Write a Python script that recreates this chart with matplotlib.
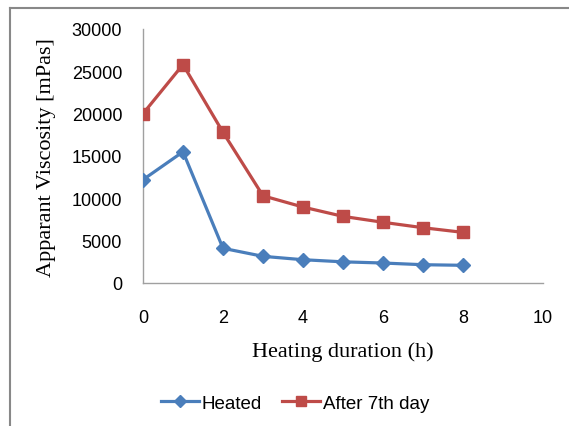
import matplotlib
matplotlib.use("Agg")
import matplotlib.pyplot as plt
from matplotlib.lines import Line2D

hours = [0, 1, 2, 3, 4, 5, 6, 7, 8]
heated = [12200, 15500, 4100, 3150, 2750, 2500, 2360, 2160, 2090]
after7 = [20000, 25800, 17800, 10300, 8970, 7870, 7170, 6530, 5980]
xticks = [0, 2, 4, 6, 8, 10]
yticks = [0, 5000, 10000, 15000, 20000, 25000, 30000]

blue = "#4A7EBB"
red = "#BE4B48"

fig = plt.figure(figsize=(5.69, 4.27), dpi=100)
ax = fig.add_axes([143/569, 1-284/427, 400/569, 254/427])

ax.plot(hours, heated, color=blue, lw=2.3, marker="D", ms=7.5, label="Heated", zorder=3)
ax.plot(hours, after7, color=red, lw=2.3, marker="s", ms=8.5, label="After 7th day", zorder=3)

ax.set_xlim(0, 10)
ax.set_ylim(0, 30000)
ax.set_xticks(xticks)
ax.set_yticks(yticks)
ax.set_xticklabels([str(t) for t in xticks], family="Liberation Sans", fontsize=13)
ax.set_yticklabels([str(t) for t in yticks], family="Liberation Sans", fontsize=13)
ax.tick_params(axis="x", length=0, pad=19)
ax.tick_params(axis="y", length=0, pad=15)
for s in ["top", "right"]:
    ax.spines[s].set_visible(False)
for s in ["left", "bottom"]:
    ax.spines[s].set_color("#A0A0A0")
    ax.spines[s].set_linewidth(1.0)

fig.text(47/569, 1-158/427, "Apparant Viscosity [mPas]", rotation=90, ha="center", va="center",
         family="Liberation Serif", fontsize=16)
fig.text(343/569, 1-352/427, "Heating duration (h)", ha="center", va="center",
         family="Liberation Serif", fontsize=16)

leg = fig.legend(loc="center", bbox_to_anchor=(295/569, 1-404/427), ncol=2, frameon=False,
                 prop={"family": "Liberation Sans", "size": 13.5}, handlelength=2.0,
                 handletextpad=0.15, columnspacing=1.1, markerscale=0.85)

# figure border (top and left visible)
fig.add_artist(Line2D([9.5/569, 1], [1-8.5/427]*2, color="#888888", lw=1.5, transform=fig.transFigure))
fig.add_artist(Line2D([9.5/569]*2, [0, 1-8.5/427], color="#888888", lw=1.5, transform=fig.transFigure))

fig.savefig("out.png", dpi=100)
